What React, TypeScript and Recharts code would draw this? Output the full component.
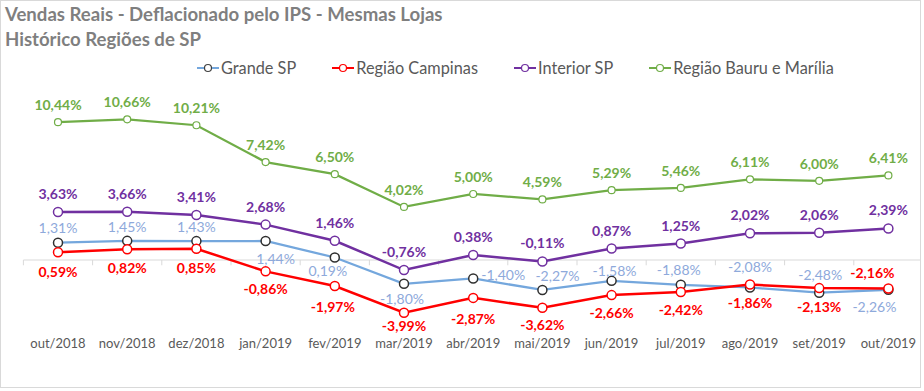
import React from 'react';
import { LineChart, Line, XAxis, YAxis, ReferenceLine, LabelList } from 'recharts';

const months = ['out/2018', 'nov/2018', 'dez/2018', 'jan/2019', 'fev/2019', 'mar/2019', 'abr/2019', 'mai/2019', 'jun/2019', 'jul/2019', 'ago/2019', 'set/2019', 'out/2019'];
const grandeSP = [1.31, 1.45, 1.43, 1.44, 0.19, -1.80, -1.40, -2.27, -1.58, -1.88, -2.08, -2.48, -2.26];
const campinas = [0.59, 0.82, 0.85, -0.86, -1.97, -3.99, -2.87, -3.62, -2.66, -2.42, -1.86, -2.13, -2.16];
const interior = [3.63, 3.66, 3.41, 2.68, 1.46, -0.76, 0.38, -0.11, 0.87, 1.25, 2.02, 2.06, 2.39];
const bauru = [10.44, 10.66, 10.21, 7.42, 6.50, 4.02, 5.00, 4.59, 5.29, 5.46, 6.11, 6.00, 6.41];

const titleLines = ['Vendas Reais - Deflacionado pelo IPS - Mesmas Lojas', 'Histórico Regiões de SP'];

const data = months.map((m, i) => ({
  idx: i,
  month: m,
  grandeSP: grandeSP[i],
  campinas: campinas[i],
  interior: interior[i],
  bauru: bauru[i],
}));

const FONT = 'Lato, "Open Sans", sans-serif';
const C_GREEN = '#70AD47';
const C_PURPLE = '#7030A0';
const C_RED = '#FF0000';
const C_BLUE = '#74A7DD';
const C_BLUE_LABEL = '#8EA9DB';

type Place = [string, number, number];
// label placement styles: [position, dx, offset]
const placeBauru: Place[] = months.map(() => ['top', 0, 12] as Place);
const placeInterior: Place[] = months.map(() => ['top', 0, 13] as Place);
const placeGrande: Place[] = [
  ['top', 0, 10], ['top', 0, 9], ['top', 0, 9], ['bottom', 10, 13], ['bottom', -7, 9],
  ['bottom', -2, 10], ['right', 8, 2], ['top', 15, 9], ['top', 3, 5], ['top', -2, 10],
  ['top', 0, 15], ['top', 1, 13], ['bottom', -14, 12],
];
const placeCampinas: Place[] = [
  ['bottom', 0, 15], ['bottom', 0, 14], ['bottom', 0, 14], ['bottom', 0, 13], ['bottom', -2, 16],
  ['bottom', 0, 8], ['bottom', 0, 16], ['bottom', 0, 12], ['bottom', 0, 13], ['bottom', 0, 13],
  ['bottom', 0, 13], ['bottom', 0, 14], ['top', -16, 11],
];

const fmt = (v: number) => v.toFixed(2).replace('.', ',') + '%';

const makeLabel = (places: Place[], color: string, weight: number | string) => (p: any) => {
  const x = p.x ?? p.viewBox?.x;
  const y = p.y ?? p.viewBox?.y;
  const i = p.index;
  if (x == null || y == null || i == null) return null;
  const [pos, dx, off] = places[i];
  let tx = x + dx;
  let ty = y;
  let anchor = 'middle';
  if (pos === 'top') ty = y - off;
  else if (pos === 'bottom') ty = y + off + 10;
  else { anchor = 'start'; ty = y + off; }
  return (
    <text key={`l${i}`} x={tx} y={ty} textAnchor={anchor} fill={color} fontWeight={weight} fontSize={14} fontFamily={FONT}>
      {fmt(Number(p.value))}
    </text>
  );
};

const legendItems = [
  { name: 'Grande SP', line: C_BLUE, dot: '#404040' },
  { name: 'Região Campinas', line: C_RED, dot: C_RED },
  { name: 'Interior SP', line: C_PURPLE, dot: C_PURPLE },
  { name: 'Região Bauru e Marília', line: C_GREEN, dot: C_GREEN },
];

const LegendBlock = () => (
  <div style={{ position: 'absolute', left: 0, top: 56, display: 'flex', alignItems: 'center', gap: 36, paddingLeft: 197, height: 24, fontFamily: FONT, fontSize: 16.3, color: '#595959', whiteSpace: 'nowrap' }}>
    {legendItems.map((it) => (
      <div key={it.name} style={{ display: 'flex', alignItems: 'center' }}>
        <svg width={22} height={10} style={{ marginRight: 2 }}>
          <line x1={0} y1={5} x2={22} y2={5} stroke={it.line} strokeWidth={2} />
          <circle cx={11} cy={5} r={3.5} fill="#fff" stroke={it.dot} strokeWidth={1.2} />
        </svg>
        <span style={{ lineHeight: '24px' }}>{it.name}</span>
      </div>
    ))}
  </div>
);

const boundaries = months.map((_, i) => i - 0.5).concat([months.length - 0.5]);

export default function App() {
  return (
    <div style={{ position: 'absolute', left: 0, top: 0, width: 921, height: 388, overflow: 'hidden', background: '#fff' }}>
      <svg width={921} height={60} style={{ position: 'absolute', left: 0, top: 0 }}>
        <text x={5} y={20.7} fontFamily={FONT} fontWeight="bold" fontSize={18.6} fill="#7F7F7F">{titleLines[0]}</text>
        <text x={5} y={46} fontFamily={FONT} fontWeight="bold" fontSize={18.6} fill="#7F7F7F">{titleLines[1]}</text>
      </svg>
      <LegendBlock />
      <div style={{ position: 'absolute', left: 1, top: 1 }}>
        <LineChart width={922} height={387} data={data} margin={{ top: 100.6, right: 0, bottom: 32, left: 22.4 }}>
          <XAxis
            dataKey="idx"
            type="number"
            domain={[-0.5, months.length - 0.5]}
            ticks={months.map((_, i) => i)}
            tickFormatter={(v: number) => months[v]}
            axisLine={false}
            tickLine={false}
            tickSize={0}
            tickMargin={12.5}
            interval={0}
            height={30}
            tick={{ fill: '#595959', fontSize: 13, fontFamily: FONT }}
          />
          <YAxis hide type="number" domain={[-5, 12]} allowDataOverflow />
          <ReferenceLine y={0} stroke="#D9D9D9" strokeWidth={1} />
          {boundaries.map((b) => (
            <ReferenceLine key={`t${b}`} segment={[{ x: b, y: 0 }, { x: b, y: -0.4 }]} stroke="#D9D9D9" strokeWidth={1} ifOverflow="visible" />
          ))}
          <Line dataKey="bauru" stroke={C_GREEN} strokeWidth={2.25} isAnimationActive={false}
            dot={{ r: 3.5, fill: '#fff', stroke: C_GREEN, strokeWidth: 1.2 }} activeDot={false}>
            <LabelList dataKey="bauru" content={makeLabel(placeBauru, C_GREEN, 'bold')} />
          </Line>
          <Line dataKey="interior" stroke={C_PURPLE} strokeWidth={2.5} isAnimationActive={false}
            dot={{ r: 4.5, fill: '#fff', stroke: C_PURPLE, strokeWidth: 1.5 }} activeDot={false}>
            <LabelList dataKey="interior" content={makeLabel(placeInterior, C_PURPLE, 'bold')} />
          </Line>
          <Line dataKey="grandeSP" stroke={C_BLUE} strokeWidth={2.25} isAnimationActive={false}
            dot={{ r: 4.5, fill: '#fff', stroke: '#303030', strokeWidth: 1.5 }} activeDot={false}>
            <LabelList dataKey="grandeSP" content={makeLabel(placeGrande, C_BLUE_LABEL, 'normal')} />
          </Line>
          <Line dataKey="campinas" stroke={C_RED} strokeWidth={2.5} isAnimationActive={false}
            dot={{ r: 4.5, fill: '#fff', stroke: C_RED, strokeWidth: 1.5 }} activeDot={false}>
            <LabelList dataKey="campinas" content={makeLabel(placeCampinas, C_RED, 'bold')} />
          </Line>
        </LineChart>
      </div>
      <div style={{ position: 'absolute', left: 0, top: 0, width: 919, height: 386, border: '1px solid #D9D9D9', pointerEvents: 'none' }} />
    </div>
  );
}
